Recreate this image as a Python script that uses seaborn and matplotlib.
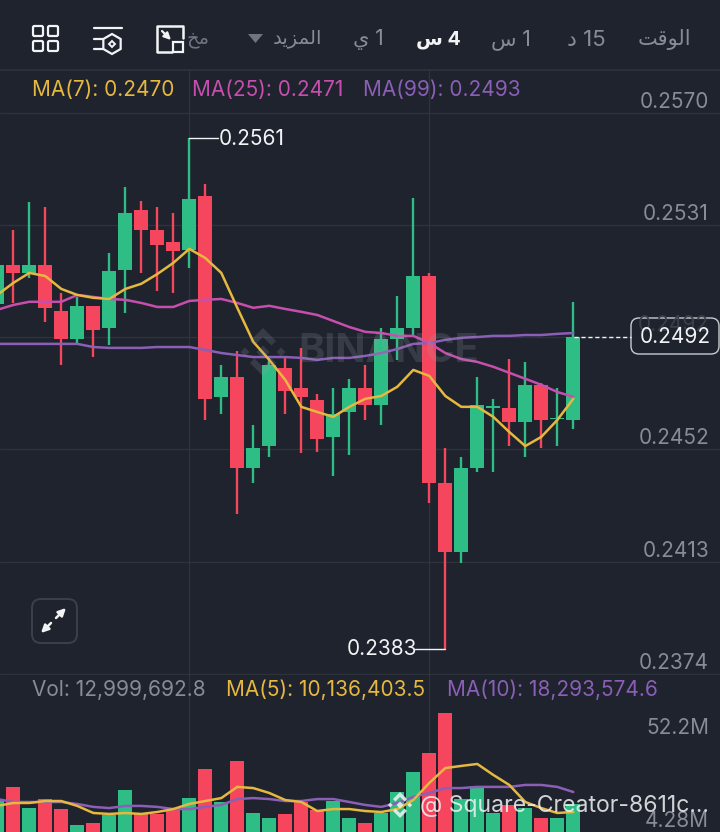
import matplotlib
matplotlib.use('Agg')
import matplotlib.pyplot as plt
from matplotlib.patches import FancyBboxPatch, Polygon, Rectangle
import numpy as np
import pandas as pd
import seaborn as sns

# candles
opens = [0.25033, 0.25169, 0.25141, 0.25169, 0.25008, 0.24910, 0.25026, 0.24949, 0.25151, 0.25361,
         0.25291, 0.25249, 0.25221, 0.25410, 0.24708, 0.24778, 0.24460, 0.24536, 0.24809, 0.24739,
         0.24697, 0.24568, 0.24655, 0.24739, 0.24680, 0.24910, 0.24949, 0.25130, 0.24407, 0.24166,
         0.24460, 0.24669, 0.24669, 0.24620, 0.24750, 0.24631, 0.24627]
closes = [0.25169, 0.25141, 0.25169, 0.25019, 0.24910, 0.25026, 0.24942, 0.25148, 0.25351, 0.25291,
          0.25239, 0.25218, 0.25400, 0.24701, 0.24778, 0.24460, 0.24530, 0.24820, 0.24729, 0.24708,
          0.24561, 0.24648, 0.24739, 0.24680, 0.24910, 0.24949, 0.25130, 0.24407, 0.24166, 0.24460,
          0.24680, 0.24676, 0.24620, 0.24750, 0.24627, 0.24634, 0.24917]
highs = [0.25169, 0.25291, 0.25389, 0.25372, 0.25071, 0.25057, 0.25026, 0.25211, 0.25441, 0.25393,
         0.25372, 0.25351, 0.25613, 0.25452, 0.24820, 0.24868, 0.24610, 0.24847, 0.24847, 0.24879,
         0.24718, 0.24739, 0.24771, 0.24820, 0.24949, 0.25061, 0.25403, 0.25141, 0.24530, 0.24498,
         0.24778, 0.24701, 0.24840, 0.24830, 0.24757, 0.24739, 0.25040]
lows = [0.25033, 0.25036, 0.25123, 0.24970, 0.24820, 0.24896, 0.24847, 0.24889, 0.25001, 0.25141,
        0.25078, 0.25071, 0.25158, 0.24627, 0.24648, 0.24299, 0.24407, 0.24498, 0.24648, 0.24512,
        0.24516, 0.24432, 0.24505, 0.24627, 0.24610, 0.24837, 0.24924, 0.24337, 0.23827, 0.24128,
        0.24446, 0.24446, 0.24536, 0.24498, 0.24530, 0.24536, 0.24596]

ma7 = [0.25064, 0.25106, 0.25141, 0.25130, 0.25085, 0.25064, 0.25054, 0.25050, 0.25085, 0.25103,
       0.25137, 0.25176, 0.25225, 0.25193, 0.25141, 0.25019, 0.24900, 0.24837, 0.24767, 0.24673,
       0.24655, 0.24638, 0.24673, 0.24701, 0.24711, 0.24743, 0.24802, 0.24781, 0.24711, 0.24673,
       0.24673, 0.24638, 0.24585, 0.24536, 0.24568, 0.24627, 0.24701]
ma25 = [0.25012, 0.25029, 0.25040, 0.25040, 0.25040, 0.25064, 0.25057, 0.25050, 0.25047, 0.25036,
        0.25022, 0.25022, 0.25043, 0.25047, 0.25050, 0.25036, 0.25019, 0.25026, 0.25015, 0.25005,
        0.24994, 0.24973, 0.24952, 0.24935, 0.24931, 0.24921, 0.24921, 0.24896, 0.24861, 0.24840,
        0.24830, 0.24813, 0.24792, 0.24771, 0.24750, 0.24725, 0.24708]
ma99 = [0.24893, 0.24893, 0.24893, 0.24893, 0.24893, 0.24893, 0.24882, 0.24879, 0.24879, 0.24879,
        0.24882, 0.24882, 0.24882, 0.24872, 0.24861, 0.24854, 0.24847, 0.24847, 0.24847, 0.24844,
        0.24837, 0.24844, 0.24844, 0.24851, 0.24861, 0.24875, 0.24893, 0.24896, 0.24907, 0.24914,
        0.24917, 0.24921, 0.24921, 0.24924, 0.24924, 0.24928, 0.24931]

# volume in millions
volume = [16.3, 23.0, 12.2, 16.8, 11.7, 3.6, 4.6, 8.7, 21.4, 9.2, 9.2, 11.2, 17.3, 32.1, 15.3, 36.2,
          9.7, 7.1, 9.2, 15.3, 11.2, 15.8, 7.1, 4.6, 9.7, 20.4, 30.6, 40.3, 60.7, 16.8, 23.5, 9.7,
          13.8, 12.2, 7.1, 7.1, 14.3]
vol_ma5 = [13.3, 14.8, 14.8, 15.8, 15.8, 13.3, 9.7, 9.2, 9.7, 9.2, 10.2, 11.7, 14.3, 15.8, 17.3, 23.0,
           22.4, 19.9, 16.3, 15.3, 10.7, 11.7, 11.7, 10.7, 10.2, 11.7, 16.3, 25.0, 32.6, 33.7, 34.7,
           29.1, 24.0, 15.3, 12.2, 9.7, 10.2]
vol_ma10 = [16.8, 15.3, 15.3, 15.3, 15.3, 14.3, 12.8, 12.2, 13.3, 13.3, 12.8, 11.7, 11.7, 12.8, 13.8,
            16.8, 17.3, 16.8, 15.8, 15.8, 16.8, 16.8, 15.3, 13.8, 12.8, 14.8, 17.9, 19.9, 22.4, 22.4,
            23.0, 23.0, 23.0, 24.0, 24.0, 23.0, 20.4]

price_ticks = [0.2570, 0.25308, 0.24916, 0.24524, 0.24132, 0.2374]
price_labels = ['0.2570', '0.2531', '0.2492', '0.2452', '0.2413', '0.2374']
vol_labels = ['52.2M', '4.28M']

BG = '#1e232d'
GRID = '#2d323b'
GREEN = '#2ebd85'
RED = '#f6465d'
YELLOW = '#e6b83f'
PINK = '#c64fae'
PURPLE = '#8a5fb5'
TEXT = '#878d97'
WHITE = '#f2f3f5'

sns.set_theme(style='dark', rc={'axes.facecolor': BG, 'figure.facecolor': BG})
plt.rcParams['font.family'] = ['Inter', 'DejaVu Sans']

fig = plt.figure(figsize=(7.2, 8.32), dpi=100)
W, H = 720, 832
ax = fig.add_axes([0, (H - 675) / H, 1, (675 - 70) / H])
ax_vol = fig.add_axes([0, 0, 1, (H - 675) / H])

idx = np.arange(len(opens))
x_range = (2.7 / 16, 722.7 / 16)

# wicks and bodies
df = pd.DataFrame({'i': idx, 'open': opens, 'close': closes, 'high': highs, 'low': lows,
                   'volume': volume})
df['side'] = np.where(df['close'] >= df['open'], 'up', 'down')
for side, color in [('up', GREEN), ('down', RED)]:
    part = df[df['side'] == side]
    ax.vlines(part['i'], part['low'], part['high'], color=color, lw=1.7, zorder=2)
    ax.bar(part['i'], (part['close'] - part['open']).abs().clip(lower=0.00004),
           bottom=part[['open', 'close']].min(axis=1), width=0.875, color=color, linewidth=0, zorder=3)

for values, color in [(ma99, PURPLE), (ma25, PINK), (ma7, YELLOW)]:
    sns.lineplot(x=idx, y=values, color=color, lw=1.8, ax=ax, zorder=4)

ax.set_xlim(x_range)
ax.set_ylim(0.23736, 0.2585)
ax.set_yticks(price_ticks)
ax.set_xticks([12, 27])

sns.barplot(data=df, x='i', y='volume', hue='side', hue_order=['up', 'down'],
            palette={'up': GREEN, 'down': RED}, native_scale=True, dodge=False, width=0.875,
            saturation=1, legend=False, linewidth=0, ax=ax_vol, zorder=3)
for values, color in [(vol_ma10, PURPLE), (vol_ma5, YELLOW)]:
    sns.lineplot(x=idx, y=values, color=color, lw=1.8, ax=ax_vol, zorder=4)
ax_vol.set_xlim(x_range)
ax_vol.set_ylim(0, 80.07)
ax_vol.set_xticks([12, 27])
ax_vol.set_yticks([])

for a in (ax, ax_vol):
    a.grid(True, color=GRID, lw=1, zorder=0)
    a.set_axisbelow(True)
    a.tick_params(length=0, labelbottom=False, labelleft=False)
    a.set_xlabel('')
    a.set_ylabel('')
    for s in a.spines.values():
        s.set_visible(False)
ax.spines['top'].set_visible(True)
ax.spines['top'].set_color(GRID)

# price scale labels sit just above their gridlines
for tick, label in zip(price_ticks, price_labels):
    if label == '0.2492':
        continue
    ax.annotate(label, (1, tick), xycoords=ax.get_yaxis_transform(), xytext=(-11, 1),
                textcoords='offset pixels', ha='right', va='bottom', color=TEXT, fontsize=15, zorder=6)

# overlay in picture pixels for the app chrome
ov = fig.add_axes([0, 0, 1, 1])
ov.set_xlim(0, W)
ov.set_ylim(H, 0)
ov.axis('off')
ov.patch.set_alpha(0)


def txt(x, y, s, color=TEXT, size=15, ha='left', **kw):
    ov.text(x, y, s, color=color, fontsize=size, ha=ha, va='center', **kw)


def logo(cx, cy, r, color, alpha):
    k = r / 24
    for dx, dy, q in [(0, 0, 6.5), (-18, 0, 4.5), (18, 0, 4.5)]:
        ov.add_patch(Polygon([(cx + (dx - q) * k, cy + dy * k), (cx + dx * k, cy + (dy - q) * k),
                              (cx + (dx + q) * k, cy + dy * k), (cx + dx * k, cy + (dy + q) * k)],
                             color=color, alpha=alpha, lw=0))
    for sgn in (-1, 1):
        ov.add_patch(Polygon([(cx - 13 * k, cy + sgn * 11 * k), (cx, cy + sgn * 24 * k),
                              (cx + 13 * k, cy + sgn * 11 * k), (cx + 8.5 * k, cy + sgn * 6.5 * k),
                              (cx, cy + sgn * 15 * k), (cx - 8.5 * k, cy + sgn * 6.5 * k)],
                             color=color, alpha=alpha, lw=0))


# header tabs, arabic in visual order with presentation forms
txt(664, 39, '\ufe96\ufed7\ufeee\ufedf\ufe8d', ha='center')
txt(586, 40, '\ufea9 15', size=16, ha='center')
txt(511, 40, '\ufeb1 1', ha='center')
txt(438, 40, '\ufeb1 4', color=WHITE, size=14, ha='center', fontweight='bold')
txt(368, 40, '\ufef1 1', ha='center')
txt(297, 39, '\ufeaa\ufef3\ufeb0\ufee4\ufedf\ufe8d', size=14, ha='center')
txt(198, 39, '\ufea6\ufee3', color='#6f7580', size=14, ha='center')
ov.add_patch(Polygon([(248, 34), (263, 34), (255.5, 43)], color='#6f7580', lw=0))

# toolbar icons
for x0 in (33, 48):
    for y0 in (26, 41):
        ov.add_patch(FancyBboxPatch((x0, y0), 10, 10, boxstyle='round,pad=0,rounding_size=1.5',
                                    fc='none', ec=WHITE, lw=1.6))
ov.plot([94, 122], [28, 28], color=WHITE, lw=1.6)
ov.plot([94, 103], [39, 39], color=WHITE, lw=1.6)
ov.plot([94, 103], [49, 49], color=WHITE, lw=1.6)
angles = np.deg2rad(np.arange(30, 390, 60))
ov.add_patch(Polygon(np.c_[112 + 10 * np.cos(angles), 44 + 10 * np.sin(angles)], fc='none', ec=WHITE, lw=1.6))
ov.add_patch(Polygon([(112, 41), (115, 44), (112, 47), (109, 44)], fc='none', ec=WHITE, lw=1.4))
ov.plot([172, 157, 157, 183, 183], [52, 52, 26, 26, 38], color=WHITE, lw=1.8)
ov.add_patch(Rectangle((173, 42), 10, 10, fc=BG, ec=WHITE, lw=1.6))
ov.annotate('', xy=(171, 40), xytext=(162, 31), arrowprops=dict(arrowstyle='-|>', color=WHITE, lw=1.6, mutation_scale=10, shrinkA=0, shrinkB=0))

# legends
txt(32, 90, 'MA(7): 0.2470', YELLOW)
txt(192, 90, 'MA(25): 0.2471', PINK)
txt(363, 90, 'MA(99): 0.2493', PURPLE)
txt(32, 690, 'Vol: 12,999,692.8', TEXT)
txt(226, 690, 'MA(5): 10,136,403.5', YELLOW)
txt(447, 690, 'MA(10): 18,293,574.6', PURPLE)
for y, label in zip((728, 821), vol_labels):
    txt(709, y, label, TEXT, ha='right')

# high and low markers
ov.plot([189, 218], [138, 138], color=WHITE, lw=1)
txt(219, 139, '0.2561', WHITE)
ov.plot([415, 445], [649, 649], color=WHITE, lw=1)
txt(347, 649, '0.2383', WHITE)

# last price box
ov.plot([574, 631], [337, 337], color=WHITE, lw=1, ls=(0, (3, 2)))
txt(709, 325, '0.2492', '#3a3f48', ha='right')
ov.add_patch(FancyBboxPatch((631, 318), 88, 36, boxstyle='round,pad=0,rounding_size=8', fc=(0.118, 0.137, 0.176, 0.85), ec='#c9ccd1', lw=1))
txt(675, 337, '0.2492', WHITE, ha='center')

# expand button
ov.add_patch(FancyBboxPatch((32, 599), 45, 44, boxstyle='round,pad=0,rounding_size=9', fc='none', ec='#3b404a', lw=1.4))
for a_xy, b_xy in [((66, 608), (56, 618)), ((41, 633), (51, 623))]:
    ov.annotate('', xy=a_xy, xytext=b_xy, arrowprops=dict(arrowstyle='-|>', color=WHITE, lw=1.8, mutation_scale=11, shrinkA=0, shrinkB=0))

# watermarks
logo(263, 352, 24, '#9aa0a8', 0.2)
txt(298, 351, 'BINANCE', '#9aa0a8', size=28.5, fontweight='bold', alpha=0.2)
logo(400, 805, 13, WHITE, 0.85)
txt(420, 806, '@ Square-Creator-8611c...', WHITE, size=16.6, alpha=0.85)

fig.savefig('out.png', dpi=100, facecolor=BG)
